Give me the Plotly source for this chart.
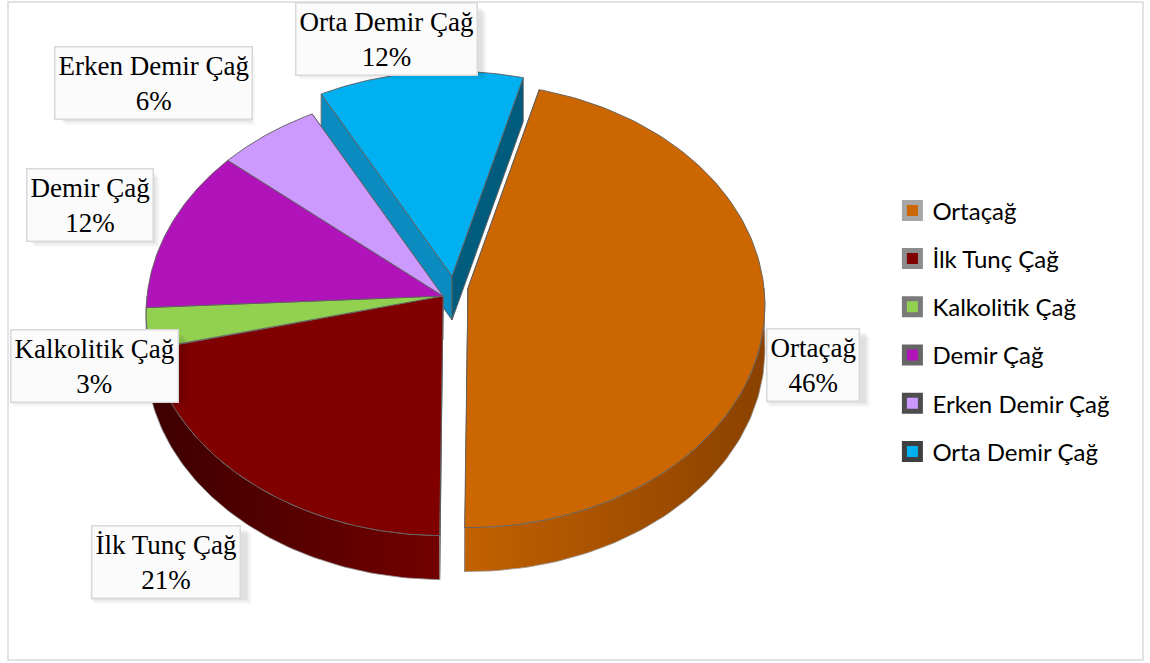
import numpy as np
import plotly.graph_objects as go

# --- data -------------------------------------------------------------
categories = ["Ortaçağ", "İlk Tunç Çağ", "Kalkolitik Çağ", "Demir Çağ",
              "Erken Demir Çağ", "Orta Demir Çağ"]
values = [46, 21, 3, 12, 6, 12]

# --- styling ----------------------------------------------------------
top_colors = ["#CC6600", "#800000", "#92D050", "#B013BA", "#CC99FF", "#00B0F0"]
rim_gradients = [("#C26100", "#8A4100"), ("#3D0000", "#720000"),
                 ("#5E8E2E", "#78AC42"), ("#7E0C86", "#900F98"),
                 ("#A678D6", "#A678D6"), ("#0088BB", "#005B7D")]
face_colors = {"start": ["#A65300", "#6A0000", "#6E9E3C", "#850E8C", "#A678D6", "#0A8CC0"],
               "end": ["#A65300", "#6A0000", "#6E9E3C", "#850E8C", "#A678D6", "#005B7D"]}
legend_frames = ["#A6A6A6", "#8C8C8C", "#7A7A7A", "#666666", "#4D4D4D", "#3F3F3F"]
edge_color = "rgba(95,95,95,0.9)"

# pie geometry (pixels) and perspective
CX, CY = 443, 296
RX = 296
SIN_E, COS_E, DIST = 0.746, 0.666, 8.5
DEPTH = 44
ROTATION = 15
explode = {"Ortaçağ": (25, -8), "Orta Demir Çağ": (9, -20)}

# label box centres and sizes (for the drop shadow)
label_pos = {"Ortaçağ": (813, 365), "İlk Tunç Çağ": (166, 562),
             "Kalkolitik Çağ": (94, 366), "Demir Çağ": (90, 205),
             "Erken Demir Çağ": (153, 83), "Orta Demir Çağ": (386, 39)}
label_box = {"Ortaçağ": (100, 70), "İlk Tunç Çağ": (157, 70),
             "Kalkolitik Çağ": (174, 67), "Demir Çağ": (125, 70),
             "Erken Demir Çağ": (190, 70), "Orta Demir Çağ": (187, 67)}

W, H = 1150, 663


def project(t_deg, cx, cy):
    t = np.radians(t_deg)
    X, Z = np.sin(t), np.cos(t)
    s = DIST / (DIST + Z * COS_E)
    return cx + RX * s * X, cy - RX * SIN_E * s * Z


total = sum(values)
bounds = ROTATION + 360 * np.concatenate([[0], np.cumsum(values)]) / total

fig = go.Figure()


def poly(xs, ys, fill=None, gradient=None, line=edge_color, width=1):
    kw = dict(x=list(xs) + [xs[0]], y=list(ys) + [ys[0]], mode="lines",
              fill="toself", line=dict(color=line, width=width),
              hoverinfo="skip", showlegend=False)
    if gradient is not None:
        kw["fillgradient"] = dict(type="horizontal",
                                  colorscale=[[0, gradient[0]], [1, gradient[1]]])
    else:
        kw["fillcolor"] = fill
    fig.add_trace(go.Scatter(**kw))


# group contiguous slices that share the same offset
groups = []
for i, cat in enumerate(categories):
    off = explode.get(cat, (0, 0))
    if groups and groups[-1]["off"] == off:
        groups[-1]["idx"].append(i)
    else:
        groups.append({"off": off, "idx": [i]})
groups.sort(key=lambda g: g["off"][1])

for g in groups:
    cx, cy = CX + g["off"][0], CY + g["off"][1]
    first, last = g["idx"][0], g["idx"][-1]
    # radial side faces at the ends of the group
    for ang, col in ((bounds[first], face_colors["start"][first]),
                     (bounds[last + 1], face_colors["end"][last])):
        rx_, ry_ = project(ang, cx, cy)
        poly([cx, rx_, rx_, cx], [cy, ry_, ry_ + DEPTH, cy + DEPTH], fill=col)
    # outer rim on the front half
    for i in g["idx"]:
        a, b = max(bounds[i], 90), min(bounds[i + 1], 270)
        if b > a:
            ts = np.linspace(a, b, 80)
            xs, ys = project(ts, cx, cy)
            poly(np.concatenate([xs, xs[::-1]]),
                 np.concatenate([ys, ys[::-1] + DEPTH]),
                 gradient=rim_gradients[i], line="rgba(150,150,150,0.8)")
    # top faces
    for i in g["idx"]:
        ts = np.linspace(bounds[i], bounds[i + 1], 120)
        xs, ys = project(ts, cx, cy)
        poly(np.concatenate([[cx], xs]), np.concatenate([[cy], ys]),
             fill=top_colors[i], line=edge_color)

# legend entries
for cat, col, frame in zip(categories, top_colors, legend_frames):
    fig.add_trace(go.Scatter(
        x=[None], y=[None], mode="markers", name=cat, legendgroup=cat,
        marker=dict(symbol="square", size=16, color=col,
                    line=dict(color=frame, width=5))))

# data labels with a soft drop shadow
annotations, shapes = [], []
for cat, v in zip(categories, values):
    x, y = label_pos[cat]
    w, h = label_box[cat]
    for k, alpha in ((7, 0.03), (5, 0.04), (3, 0.05)):
        shapes.append(dict(type="rect", x0=x - w / 2 + k, x1=x + w / 2 + k,
                           y0=y - h / 2 + k, y1=y + h / 2 + k, layer="above",
                           line=dict(width=0), fillcolor=f"rgba(0,0,0,{alpha})"))
    annotations.append(dict(
        x=x, y=y, text=f"{cat}<br>{v / total * 100:.0f}%", showarrow=False,
        font=dict(family="Liberation Serif", size=27, color="#000000"),
        bgcolor="#FBFBFB", bordercolor="#D9D9D9", borderwidth=1.5, borderpad=3))

shapes.append(dict(type="rect", x0=8, y0=2, x1=1143, y1=660,
                   line=dict(color="#D9D9D9", width=1.5), layer="below"))

fig.update_layout(
    width=W, height=H, margin=dict(l=0, r=0, t=0, b=0),
    paper_bgcolor="white", plot_bgcolor="white",
    xaxis=dict(range=[0, W], visible=False, fixedrange=True),
    yaxis=dict(range=[H, 0], visible=False, fixedrange=True),
    annotations=annotations, shapes=shapes,
    legend=dict(x=0.776, y=0.716, xanchor="left", yanchor="top",
                font=dict(family="Lato", size=24, color="#000000"),
                tracegroupgap=14, itemwidth=30, bgcolor="rgba(0,0,0,0)"),
)

fig.write_html("out.html")
